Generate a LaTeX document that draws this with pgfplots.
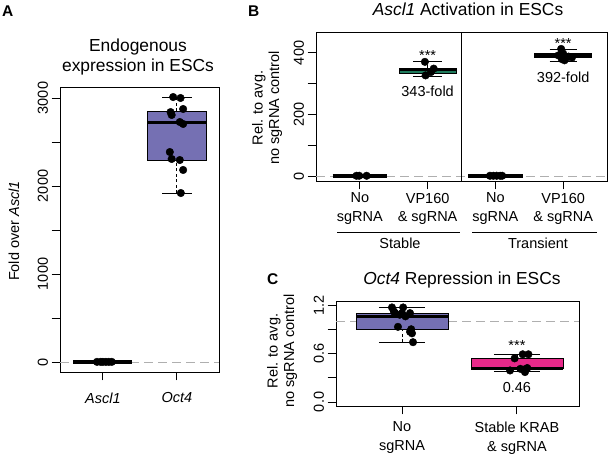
\documentclass[border=0pt]{standalone}
\usepackage{pgfplots}
\pgfplotsset{compat=1.18}
\usepgfplotslibrary{statistics}
\usepackage{fontspec}
\setmainfont{Liberation Sans}
\definecolor{boxpurple}{HTML}{7570B3}
\definecolor{boxpink}{HTML}{E7298A}
\definecolor{boxgreen}{HTML}{1F7A5C}
\definecolor{refgray}{RGB}{175,175,175}
\newcommand{\fs}{\fontsize{14.5bp}{18.3bp}\selectfont}
\newcommand{\fc}{\fontsize{14.5bp}{19bp}\selectfont}
\newcommand{\fy}{\fontsize{14.5bp}{16.5bp}\selectfont}
\newcommand{\ft}{\fontsize{17.4bp}{20bp}\selectfont}
\newcommand{\fp}{\fontsize{15.5bp}{18bp}\selectfont\bfseries}

\pgfplotsset{
  rbase/.style={
    scale only axis,
    clip=false,
    axis line style={line width=0.9bp},
    tick style={black, line width=0.9bp},
    tick align=outside,
    major tick length=8.5bp,
    xtick pos=left, ytick pos=left,
    tick label style={font=\fs},
    yticklabel style={rotate=90, anchor=south},
    xticklabel style={align=center},
    /pgf/number format/assume math mode=true,
  },
  pts/.style={only marks, mark=*, mark size=3.8bp, black, mark options={draw=black,fill=black}},
  refline/.style={refgray, line width=0.9bp, dash pattern=on 9bp off 5bp},
  zerobox/.style={black, line width=4bp},
  whisk/.style={black, line width=0.8bp, dash pattern=on 3bp off 2.5bp},
  cap/.style={black, line width=0.8bp},
}

\begin{document}
\begin{tikzpicture}
\useasboundingbox (0,0) rectangle (611bp,456bp);

% ---------------- Panel A ----------------
\begin{axis}[rbase, at={(60bp,84bp)}, anchor=south west, width=159bp, height=285bp,
  xmin=0.42, xmax=2.57, ymin=-114, ymax=3125,
  xtick={1,2}, xticklabels={\textit{Ascl1},\textit{Oct4}},
  xticklabel style={yshift=-8.7bp},
  ytick={0,500,1000,1500,2000,2500,3000}, yticklabels={0,{},1000,{},2000,{},3000}]
\addplot[refline] coordinates {(0.42,0) (2.57,0)};
% whiskers Oct4
\addplot[whisk] coordinates {(2,1920) (2,2295)};
\addplot[whisk] coordinates {(2,2852) (2,3011)};
\addplot[cap] coordinates {(1.8,1920) (2.2,1920)};
\addplot[cap] coordinates {(1.8,3011) (2.2,3011)};
\addplot[draw=black, fill=boxpurple, line width=0.8bp] coordinates {(1.6,2295) (2.4,2295) (2.4,2852) (1.6,2852)} -- cycle;
\addplot[black, line width=3bp] coordinates {(1.6,2727) (2.4,2727)};
% Ascl1 (all ~1)
\addplot[zerobox] coordinates {(0.6,1) (1.4,1)};
\addplot[pts] coordinates {
  (1.95,3011) (2.05,3000) (1.915,2840) (1.93,2807) (2.085,2875) (2.04,2727)
  (2.085,2705) (1.905,2386) (1.93,2307) (2.04,2295) (2.085,2182) (2.054,1920)
};
\addplot[pts] coordinates {
  (0.92,1) (0.97,1) (1.0,1) (1.04,1) (1.08,1) (1.12,1)
};
\end{axis}

% ---------------- Panel B ----------------
\begin{axis}[rbase, at={(316bp,275bp)}, anchor=south west, width=291bp, height=149bp,
  xmin=0.353, xmax=4.647, ymin=-16, ymax=468,
  xtick={1,2,3,4}, xticklabels={{No\\sgRNA},{VP160\\\& sgRNA},{No\\sgRNA},{VP160\\\& sgRNA}},
  ytick={0,100,200,300,400}, yticklabels={0,{},200,{},400}]
\addplot[refline] coordinates {(0.353,0) (4.647,0)};
\addplot[black, line width=0.9bp] coordinates {(2.5,-16) (2.5,468)};
\addplot[zerobox] coordinates {(0.6,1) (1.4,1)};
\addplot[zerobox] coordinates {(2.6,1) (3.4,1)};
% VP160 stable
\addplot[whisk] coordinates {(2,325) (2,332)};
\addplot[whisk] coordinates {(2,351) (2,371)};
\addplot[cap] coordinates {(1.79,325) (2.21,325)};
\addplot[cap] coordinates {(1.79,371) (2.21,371)};
\addplot[draw=black, fill=boxgreen, line width=0.8bp] coordinates {(1.58,332) (2.42,332) (2.42,351) (1.58,351)} -- cycle;
\addplot[black, line width=3bp] coordinates {(1.58,347) (2.42,347)};
% VP160 transient
\addplot[whisk] coordinates {(4,374) (4,384)};
\addplot[whisk] coordinates {(4,402) (4,413)};
\addplot[cap] coordinates {(3.8,374) (4.2,374)};
\addplot[cap] coordinates {(3.8,413) (4.2,413)};
\addplot[draw=black, fill=boxgreen, line width=0.8bp] coordinates {(3.58,385) (4.42,385) (4.42,400) (3.58,400)} -- cycle;
\addplot[black, line width=3.5bp] coordinates {(3.58,392) (4.42,392)};
\addplot[pts] coordinates {(0.95,1) (0.99,1) (1.1,1)};
\addplot[pts] coordinates {(1.96,371) (2.09,349) (1.97,327) (2.05,338)};
\addplot[pts] coordinates {(2.92,1) (2.97,1) (3.02,1) (3.07,1) (3.1,1)};
\addplot[pts] coordinates {(3.97,413) (4.0,398) (3.93,392) (4.08,388) (4.13,385) (3.98,380) (4.02,376)};
\node[font=\fs, anchor=base, inner sep=0] at (axis cs:2,377) {***};
\node[font=\fs] at (axis cs:2,276) {343-fold};
\node[font=\fs, anchor=base, inner sep=0] at (axis cs:4,416) {***};
\node[font=\fs] at (axis cs:4,320) {392-fold};
\end{axis}

% ---------------- Panel C ----------------
\begin{axis}[rbase, at={(336bp,50bp)}, anchor=south west, width=243bp, height=105bp,
  xmin=0.426, xmax=2.54, ymin=-0.05, ymax=1.25,
  xtick={1,2}, xticklabels={{No\\sgRNA},{Stable KRAB\\\& sgRNA}},
  xticklabel style={yshift=-4bp, font=\fc},
  ytick={0,0.3,0.6,0.9,1.2}, yticklabels={0.0,{},0.6,{},1.2}]
\addplot[refline] coordinates {(0.426,1) (2.54,1)};
% No sgRNA
\addplot[whisk] coordinates {(1,0.74) (1,0.90)};
\addplot[whisk] coordinates {(1,1.10) (1,1.166)};
\addplot[cap] coordinates {(0.8,0.74) (1.2,0.74)};
\addplot[cap] coordinates {(0.8,1.166) (1.2,1.166)};
\addplot[draw=black, fill=boxpurple, line width=0.8bp] coordinates {(0.6,0.90) (1.4,0.90) (1.4,1.10) (0.6,1.10)} -- cycle;
\addplot[black, line width=3bp] coordinates {(0.6,1.06) (1.4,1.06)};
% Stable KRAB
\addplot[whisk] coordinates {(2,0.38) (2,0.41)};
\addplot[whisk] coordinates {(2,0.54) (2,0.59)};
\addplot[cap] coordinates {(1.8,0.38) (2.2,0.38)};
\addplot[cap] coordinates {(1.8,0.59) (2.2,0.59)};
\addplot[draw=black, fill=boxpink, line width=0.8bp] coordinates {(1.6,0.41) (2.4,0.41) (2.4,0.54) (1.6,0.54)} -- cycle;
\addplot[black, line width=3bp] coordinates {(1.6,0.42) (2.4,0.42)};
\addplot[pts] coordinates {
  (0.913,1.17) (1.01,1.17) (0.94,1.10) (0.98,1.08) (1.0,1.10) (1.07,1.10)
  (0.93,1.12) (1.03,1.06) (0.965,0.93) (1.07,0.87) (1.087,0.85) (1.08,0.90) (1.096,0.74)
};
\addplot[pts] coordinates {
  (1.94,0.39) (1.98,0.54) (2.03,0.41) (2.05,0.59) (2.07,0.37) (2.09,0.42) (2.10,0.59) (2.06,0.40)
};
\node[font=\fs, anchor=base, inner sep=0] at (axis cs:2,0.64) {***};
\node[font=\fs] at (axis cs:2,0.18) {0.46};
\end{axis}

% ---------------- Text outside axes ----------------
\node[font=\fp, anchor=base west, inner sep=0] at (2bp,439bp) {A};
\node[font=\fp, anchor=base west, inner sep=0] at (248bp,439bp) {B};
\node[font=\fp, anchor=base west, inner sep=0] at (267bp,171bp) {C};
\node[font=\ft, anchor=base, inner sep=0] at (138bp,404bp) {Endogenous};
\node[font=\ft, anchor=base, inner sep=0] at (138bp,384bp) {expression in ESCs};
\node[font=\ft, anchor=base, inner sep=0] at (468bp,440bp) {\textit{Ascl1} Activation in ESCs};
\node[font=\ft, anchor=base, inner sep=0] at (462bp,171bp) {\textit{Oct4} Repression in ESCs};
\node[font=\fs, rotate=90, inner sep=0] at (14bp,225bp) {Fold over \textit{Ascl1}};
\node[font=\fy, rotate=90, align=center, inner sep=0] at (267bp,348bp) {Rel. to avg.\\no sgRNA control};
\node[font=\fy, rotate=90, align=center, inner sep=0] at (282bp,105bp) {Rel. to avg.\\no sgRNA control};
\draw[line width=0.9bp] (337bp,224bp) -- (460bp,224bp);
\draw[line width=0.9bp] (472bp,224bp) -- (597bp,224bp);
\node[font=\fs, anchor=base, inner sep=0] at (400bp,207bp) {Stable};
\node[font=\fs, anchor=base, inner sep=0] at (538bp,207bp) {Transient};
\end{tikzpicture}
\end{document}
